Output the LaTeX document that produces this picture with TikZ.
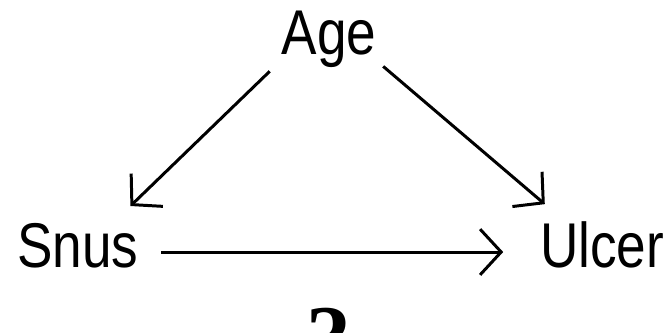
\documentclass[tikz,border=0pt]{standalone}
\usepackage{fontspec}
\setmainfont{Liberation Sans}
\newfontfamily\qmarkfont{Liberation Serif}
\usetikzlibrary{arrows.meta}
\tikzset{
  varnode/.style={font=\fontsize{36}{40}\selectfont, text height=27pt,
    text depth=9pt, inner sep=4.5pt, xscale=0.84, transform shape},
  causarr/.style={-{Straight Barb[length=12pt, width=26pt]}, line width=1.7pt},
}

\begin{document}
\begin{tikzpicture}[x=0.02cm, y=-0.02cm]
  \useasboundingbox (0,0) rectangle (668,332);
  \clip (0,0) rectangle (668,332);

  \node[varnode] (age) at (329,39) {Age};
  \node[varnode] (snus) at (78,252) {Snus};
  \node[varnode] (ulcer) at (602,252) {Ulcer};
  \node[font=\qmarkfont\bfseries\fontsize{51}{56}\selectfont, anchor=base,
    inner sep=0pt] (qm) at (329,367) {?};

  \draw[causarr, shorten <=4pt, shorten >=5pt] (age.203) -- (snus.36);
  \draw[causarr, shorten >=7pt] (age.337) -- (ulcer.145);
  \draw[causarr, shorten <=9pt, shorten >=17pt] (snus) -- (ulcer);
\end{tikzpicture}
\end{document}
